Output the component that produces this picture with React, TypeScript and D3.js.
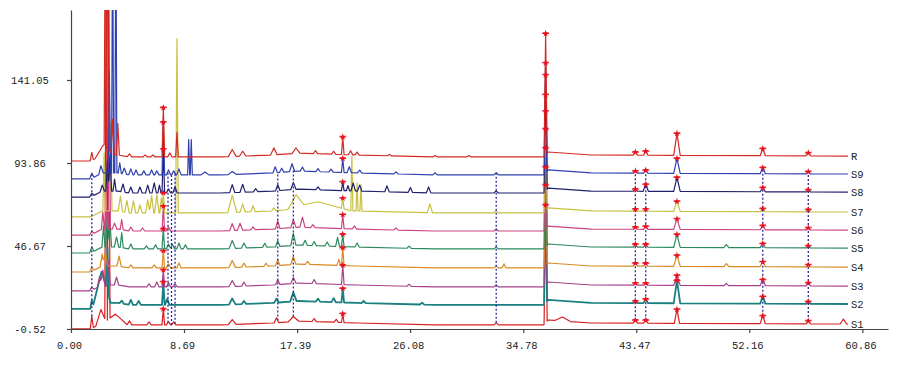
import { useEffect, useRef } from "react"
import * as d3 from "d3"

type Peak = [number, number, number?]

// tick labels as printed by the instrument software
const xTickValues = [0, 8.69, 17.39, 26.08, 34.78, 43.47, 52.16, 60.86]
const xTickLabels = ["0.00", "8.69", "17.39", "26.08", "34.78", "43.47", "52.16", "60.86"]
const yTickValues = [-0.52, 46.67, 93.86, 141.05]
const yTickLabels = ["-0.52", "46.67", "93.86", "141.05"]

// traces, bottom to top
const traceNames = ["S1", "S2", "S3", "S4", "S5", "S6", "S7", "S8", "S9", "R"]
const traceColors = ["#d82020", "#1a7f80", "#a8408a", "#d88a20", "#2a8a5e", "#cc4480", "#c8c040", "#20206e", "#3040b0", "#d42a22"]
const traceOffsets = [-0.5, 10.9, 21.1, 31.9, 42.7, 52.9, 63.2, 74.5, 84.8, 95.0]

// shared baseline drift [time, rise]
const drift: [number, number][] = [
  [0, 0], [1.45, 0], [1.8, 1.1], [2.4, 3.4], [3.6, 3.4], [4.5, 2.3], [11.5, 2.3],
  [15.5, 3.4], [17.5, 4.5], [22, 3.4], [28, 2.3], [36.35, 2.3], [36.7, 5.1], [40, 3.4], [59.75, 2.8],
]

// peaks [retention time, height, half width]
const peaksS1: Peak[] = [
  [1.6, 6.8, 0.12], [2.3, 8, 0.4], [2.7, 200, 0.1], [2.9, 190, 0.1], [3.4, 5, 0.9], [4.5, 2.3], [6.0, 1.7],
  [7.1, 9.1, 0.1], [7.5, 1.7], [7.9, 1.7], [12.4, 2.8, 0.3], [15.8, 2.8], [17.1, 2.8, 0.4], [18.7, 1.7],
  [20.4, 1.7], [20.9, 5, 0.1], [32.7, 1.2], [36.5, 67, 0.12], [37.8, 2.3, 0.6], [43.4, 1.7], [44.2, 1.7],
  [46.6, 8, 0.2], [53.2, 4.5, 0.2], [56.7, 1.7], [59.4, 2.8, 0.25],
]
const peaksS2: Peak[] = [
  [1.6, 4.5, 0.12], [2.35, 18, 0.7], [2.8, 25, 0.12], [3.9, 1.7], [4.6, 2.8], [5.2, 2.3], [7.1, 13.1, 0.1],
  [7.4, 3.4], [12.4, 3.4, 0.25], [13.3, 1.7], [15.8, 2.3], [17.1, 5.1, 0.25], [19.0, 1.7], [20.2, 2.3],
  [20.9, 8, 0.1], [22.5, 1.2], [27, 1.0], [36.5, 67, 0.12], [43.4, 1.2], [44.2, 2.3], [46.6, 13, 0.25],
  [53.2, 4, 0.2], [56.7, 1.2],
]
const peaksS3: Peak[] = [
  [1.6, 1.7], [2.2, 5.7], [2.45, 8.5], [2.9, 14, 0.12], [3.5, 4.5], [6.0, 1.7], [6.6, 2.8], [7.1, 9.7, 0.1],
  [7.5, 2.3], [8.0, 1.7], [12.4, 3.4, 0.25], [13.3, 2.3], [15.9, 2.8], [17.1, 3.4, 0.2], [18.7, 2.3],
  [20.9, 11, 0.1], [26, 1.2], [32.7, 1.2], [36.5, 67, 0.12], [43.4, 1.2], [44.2, 1.2], [46.6, 5.7, 0.25],
  [50.4, 1.2], [53.2, 3.4, 0.2], [56.7, 1.7],
]
const peaksS4: Peak[] = [
  [1.6, 2.3], [2.4, 6.8], [2.65, 8], [3.7, 5.7], [4.6, 1.7], [6.4, 1.7], [7.1, 9.7, 0.1], [7.5, 2.3],
  [8.3, 2.8], [12.4, 4, 0.25], [13.3, 2.3], [15.0, 1.7], [15.9, 3.4], [17.1, 4.5, 0.2], [18.2, 1.7],
  [20.6, 3.4, 0.15], [20.9, 10, 0.1], [32.7, 1.2], [33.3, 2.3, 0.15], [36.5, 67, 0.12], [43.4, 1.7],
  [44.2, 1.7], [46.6, 6.3, 0.25], [50.4, 1.7, 0.2], [53.2, 2.8, 0.2], [56.7, 1.2],
]
const peaksS5: Peak[] = [
  [1.6, 2.8], [2.5, 12, 0.12], [2.8, 20, 0.12], [3.0, 14, 0.12], [3.5, 5.7], [3.9, 8.5, 0.12], [4.6, 2.8],
  [5.8, 1.7], [6.5, 2.3], [7.1, 11.4, 0.1], [7.5, 2.8], [7.8, 2.8], [8.3, 3.4], [8.8, 2.3], [12.4, 4.5, 0.25],
  [13.3, 2.8, 0.2], [14.9, 2.3], [15.9, 3.4], [17.1, 6.8, 0.2], [18.0, 2.8], [18.7, 2.3], [19.7, 2.3],
  [20.5, 5.1, 0.15], [20.9, 7, 0.1], [22.0, 2.3], [26, 1.2], [32.7, 1.2], [36.5, 67, 0.12], [43.4, 1.7],
  [44.2, 1.7], [46.6, 7.4, 0.25], [50.4, 1.7, 0.2], [53.2, 2.3, 0.2], [56.7, 1.2],
]
const peaksS6: Peak[] = [
  [1.6, 1.7], [2.45, 9.7, 0.12], [2.7, 11.4, 0.12], [2.95, 69, 0.08], [3.35, 3.4], [3.9, 5.7, 0.12],
  [4.6, 2.3], [5.5, 1.7], [7.1, 14.2, 0.1], [7.5, 2.3], [12.4, 4, 0.2], [13.0, 4, 0.2], [14.0, 1.7],
  [15.9, 4.5], [17.1, 4.5, 0.2], [17.8, 5.7, 0.2], [18.6, 1.7], [20.9, 8, 0.1], [21.8, 1.7], [25, 1.2],
  [32.7, 1.2], [36.5, 67, 0.12], [43.4, 1.2], [44.2, 1.7], [46.6, 6, 0.25], [53.2, 2.3, 0.2], [56.7, 1.2],
]
const peaksS7: Peak[] = [
  [2.55, 33, 0.1], [3.05, 50, 0.1], [3.8, 8.5], [4.3, 6.8], [4.8, 6.8], [5.3, 4.5], [5.9, 7.4], [6.2, 9.7],
  [6.6, 10.2], [6.95, 8.5, 0.12], [7.1, 11.4, 0.1], [8.15, 99, 0.1], [12.4, 9.7, 0.35], [13.2, 4.5, 0.2],
  [14.0, 3.4], [15.6, 1.7], [17.3, 6.8, 0.6], [19, 4.5, 2.5], [20.9, 6, 0.1], [21.6, 31, 0.08],
  [22.0, 16, 0.08], [22.3, 15, 0.08], [27.6, 5.1, 0.2], [32.7, 1.2], [36.5, 66, 0.12], [43.4, 1.2],
  [44.2, 1.2], [46.6, 5.7, 0.25], [53.2, 1.7], [56.7, 1.2],
]
const peaksS8: Peak[] = [
  [1.6, 1.7], [2.4, 3.4], [2.8, 17, 0.12], [3.0, 20, 0.12], [3.35, 6.8, 0.12], [4.0, 4.5], [4.6, 3.4],
  [5.3, 3.4], [5.9, 4.5], [6.4, 5.7], [6.8, 4.5, 0.12], [7.1, 25, 0.1], [7.5, 2.3], [8.0, 3.4],
  [12.4, 4.5, 0.2], [13.2, 4.5, 0.2], [14.2, 1.7], [15.9, 3.4], [17.1, 4, 0.2], [19, 1.7], [20.9, 5, 0.1],
  [21.3, 3, 0.12], [21.7, 4.5], [22.2, 3.4], [24.3, 3.4], [26.1, 2.8], [27.5, 3.4], [32.7, 1.2],
  [36.5, 66, 0.12], [43.4, 1.2], [44.2, 4, 0.2], [46.6, 8, 0.25], [53.2, 2.3, 0.2], [56.7, 1.2],
]
const peaksS9: Peak[] = [
  [1.6, 2.8], [2.3, 4.5], [2.95, 58, 0.1], [3.2, 150, 0.08], [3.45, 150, 0.08], [3.75, 6, 0.12], [4.1, 3.4],
  [4.6, 3.4], [5.0, 2.8], [5.6, 2.3], [6.2, 2.8], [6.6, 2.3], [7.1, 30, 0.1], [7.5, 2.8], [7.9, 2.3],
  [8.3, 3.4], [9.05, 20, 0.08], [9.25, 20, 0.08], [10.3, 1.7, 0.3], [12.4, 1.7, 0.3], [15.7, 3.4],
  [16.2, 2.3], [17.0, 4.5, 0.2], [17.8, 2.3], [19.0, 1.7], [20.0, 1.7], [20.9, 8, 0.1], [21.4, 3.4],
  [22.2, 1.7], [25.0, 1.2], [28, 1.2], [32.7, 1.2], [36.5, 62.5, 0.12], [43.4, 1.2], [44.2, 1.7],
  [46.6, 8.5, 0.25], [53.2, 3.4, 0.2], [56.7, 1.2],
]
const peaksR: Peak[] = [
  [1.6, 4.5, 0.12], [2.55, 6, 0.7], [2.65, 160, 0.1], [2.85, 160, 0.1], [3.2, 20, 0.12], [3.6, 18, 0.12],
  [4.5, 1.7], [5.7, 1.2], [6.3, 1.2], [7.1, 28, 0.1], [7.6, 2.3], [8.15, 14, 0.1], [12.4, 4, 0.3],
  [13.2, 2.8, 0.25], [15.6, 4, 0.25], [17.3, 3, 0.3], [18.8, 1.7], [20.2, 1.7], [20.9, 10, 0.1],
  [21.5, 2.3], [22.0, 1.7], [24.5, 0.8], [28, 0.8], [30.6, 0.8], [36.5, 69, 0.12], [43.4, 1.7],
  [44.2, 2.3], [46.6, 12.5, 0.25], [53.2, 4, 0.2], [56.7, 1.7, 0.2],
]
const tracePeaks = [peaksS1, peaksS2, peaksS3, peaksS4, peaksS5, peaksS6, peaksS7, peaksS8, peaksS9, peaksR]

// matched peaks: red markers on every trace, dotted links from S1 up to S9
const markerTimes = [7.1, 20.9, 36.5, 43.4, 44.2, 46.6, 53.2, 56.7]
const linkTimes = [1.6, 7.46, 7.73, 8.0, 15.9, 17.1, 32.7, 43.4, 44.2, 53.2, 56.7]

const T_END = 59.75
const DEFAULT_HALF_WIDTH = 0.17

export default function App() {
  const svgRef = useRef<SVGSVGElement>(null)

  useEffect(() => {
    if (!svgRef.current) return
    const svg = d3.select(svgRef.current)
    svg.selectAll("*").remove()

    const x = d3.scaleLinear().domain([0, 62.83]).range([71, 888])
    const y = d3.scaleLinear().domain([-0.52, 180.85]).range([329, 10])
    const base = d3.scaleLinear().domain(drift.map((d) => d[0])).range(drift.map((d) => d[1]))

    const valueAt = (k: number, t: number) => {
      let v = traceOffsets[k] + base(t)
      for (const [pt, h, w = DEFAULT_HALF_WIDTH] of tracePeaks[k]) {
        const d = Math.abs(t - pt)
        if (d < w) v += h * (1 - d / w)
      }
      return v
    }

    const pointsOf = (k: number) => {
      const ts = new Set<number>([0, T_END, ...drift.map((d) => d[0])])
      tracePeaks[k].forEach(([pt, , w = DEFAULT_HALF_WIDTH]) => {
        ts.add(pt - w)
        ts.add(pt)
        ts.add(pt + w)
      })
      return [...ts]
        .filter((t) => t >= 0 && t <= T_END)
        .sort((a, b) => a - b)
        .map((t) => [t, valueAt(k, t)] as [number, number])
    }

    const line = d3.line<[number, number]>().x((d) => x(d[0])).y((d) => y(d[1]))

    svg.append("defs").append("clipPath").attr("id", "plot-clip")
      .append("rect").attr("x", 71).attr("y", 10).attr("width", 820).attr("height", 320)

    const plot = svg.append("g").attr("clip-path", "url(#plot-clip)")

    traceNames.forEach((name, k) => {
      plot.append("path")
        .attr("d", line(pointsOf(k)))
        .attr("fill", "none")
        .attr("stroke", traceColors[k])
        .attr("stroke-width", name === "S2" ? 1.8 : 1.2)
        .attr("stroke-linejoin", "round")
    })

    // dotted links between matched peaks
    linkTimes.forEach((t) => {
      plot.append("line")
        .attr("x1", x(t)).attr("x2", x(t))
        .attr("y1", y(valueAt(0, t))).attr("y2", y(valueAt(8, t)))
        .attr("stroke", "#2a2a9a")
        .attr("stroke-width", 1.3)
        .attr("stroke-dasharray", "2,2")
    })

    const star = d3.symbol(d3.symbolStar).size(15)
    markerTimes.forEach((t) => {
      traceNames.forEach((_, k) => {
        const g = plot.append("g")
          .attr("transform", `translate(${x(t)},${y(valueAt(k, t))})`)
        g.append("line")
          .attr("x1", -3.5).attr("x2", 3.5)
          .attr("stroke", "#e8101c").attr("stroke-width", 1)
        g.append("path").attr("d", star()).attr("fill", "#e8101c")
      })
    })

    // trace names at the right end
    traceNames.forEach((name, k) => {
      svg.append("text")
        .attr("x", x(T_END) + 3)
        .attr("y", y(valueAt(k, T_END)))
        .attr("dy", "0.35em")
        .attr("font-family", "'Liberation Mono', monospace")
        .attr("font-size", "10.5px")
        .attr("fill", "#222")
        .text(name)
    })

    // axes
    const xAxis = d3.axisBottom(x)
      .tickValues(xTickValues)
      .tickFormat((_: any, i: number) => xTickLabels[i])
      .tickSize(4)
      .tickSizeOuter(0)
    const gx = svg.append("g").attr("transform", "translate(0,329)").call(xAxis)
    gx.selectAll("text").attr("y", 16).attr("dy", "0.35em").attr("dx", -2)

    const yAxis = d3.axisLeft(y)
      .tickValues(yTickValues)
      .tickFormat((_: any, i: number) => yTickLabels[i])
      .tickSize(4)
      .tickSizeOuter(0)
    const gy = svg.append("g").attr("transform", "translate(71,0)").call(yAxis)
    gy.selectAll("text").attr("x", -41).attr("text-anchor", "middle")

    svg.selectAll(".domain, .tick line").attr("stroke", "#444").attr("stroke-width", 1.2)
    svg.selectAll(".tick text")
      .attr("font-family", "'Liberation Mono', monospace")
      .attr("font-size", "10.5px")
      .attr("fill", "#222")
  }, [])

  return (
    <svg
      ref={svgRef}
      width={901}
      height={366}
      style={{ position: "absolute", left: 0, top: 0, background: "#fff" }}
    />
  )
}
